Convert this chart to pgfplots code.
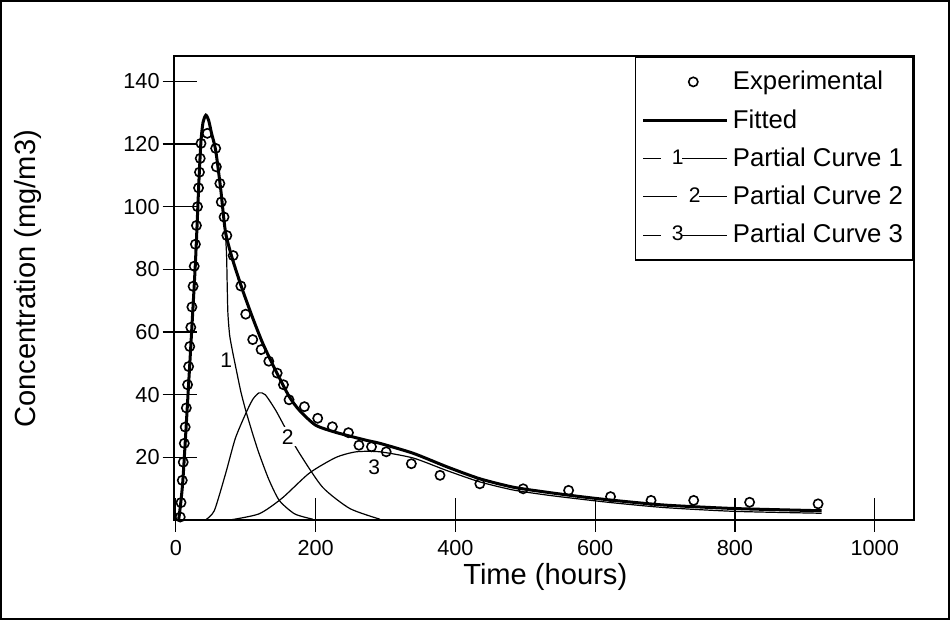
\documentclass[border=0pt]{standalone}
\usepackage{fontspec}
\setmainfont{Liberation Sans}
\usepackage{pgfplots}
\pgfplotsset{compat=1.18}

\pgfplotsset{
    markimg/.style={legend image code/.code={\path (0pt,0pt) (42pt,0pt);
        \draw[##1] plot coordinates {(25pt,0pt)};}},
    lineimg/.style={legend image code/.code={\draw[##1] (0pt,0pt) -- (42pt,0pt);}},
    numimg/.style n args={4}{legend image code/.code={\draw[##1] (0pt,0pt) -- (#2,0pt);
        \node[inner sep=0pt, font=\fontsize{10.5}{12}\selectfont] at (#3,0pt) {#1};
        \draw[##1] (#4,0pt) -- (42pt,0pt);}},
}

\begin{document}
\begin{tikzpicture}
\begin{axis}[
    scale only axis,
    width=368.5pt,
    height=231pt,
    xmin=-3, xmax=1056,
    ymin=0, ymax=148,
    xtick={0,200,...,1000},
    ytick={20,40,...,140},
    xtick pos=bottom,
    ytick pos=left,
    tick align=center,
    major tick length=17pt,
    xtick style={yshift=2.75pt, line width=0.6pt, black},
    ytick style={xshift=3pt, line width=0.6pt, black},
    axis line style={line width=1pt},
    /pgf/number format/assume math mode=true,
    /pgf/number format/1000 sep={},
    tick label style={font=\fontsize{10.8}{12}\selectfont},
    yticklabel style={xshift=5pt},
    xticklabel style={yshift=2pt},
    xlabel={Time (hours)},
    ylabel={Concentration (mg/m3)},
    label style={font=\fontsize{14.5}{16}\selectfont},
    xlabel style={at={(rel axis cs:0.502,-0.123)}, anchor=center},
    ylabel style={at={(rel axis cs:-0.197,0.52)}, anchor=center},
    clip=false,
    legend cell align=left,
    legend style={at={(1,1)}, anchor=north east, draw=black, line width=0.8pt,
        font=\fontsize{12.8}{14}\selectfont, row sep=4.3pt, inner xsep=3pt, inner ysep=5pt},
]

% experimental points
\addplot[only marks, mark=o, mark size=2.3pt, mark options={line width=0.8pt}, markimg]
coordinates {
(6.3,1) (7.4,5.6) (9.2,12.7) (10.6,18.5) (12.1,24.5) (13.4,29.7) (15,35.8)
(16.8,43.2) (18.3,49) (19.9,55.4) (21.4,61.5) (23,68) (24.7,74.6) (26.3,81)
(28,88) (29.5,94) (31,100) (32.5,106) (33.8,111) (34.9,115.4) (36,120.2)
(45,123.4) (57,118.6) (58,112.7) (63,107.4) (65,101.5) (69,96.7) (73,90.8)
(82,84.4) (93,74.7) (100,65.7) (110,57.6) (122,54.4) (133,50.7) (145,46.9)
(154,43.2) (162,38.4) (184,36.2) (203,32.5) (224,29.8) (247,27.9) (262,23.9)
(280,23.4) (301,21.8) (337,18) (378,14.3) (435,11.6) (497,10) (562,9.5)
(622,7.5) (680,6.3) (741,6.3) (821,5.7) (919,5.2)
};
\addlegendentry{Experimental}

% fitted curve
\addplot[line width=1.5pt, smooth, tension=0.4, lineimg]
coordinates {
(4,0) (10,12.5) (20,50) (28,82) (33,108) (36,121) (39,127) (43,129.2)
(47,127.5) (51,123.5) (57,118) (64,106) (71,92) (81,83.3) (95,73.7)
(110,64.5) (124,56.6) (140,49) (162,39.5) (177,35) (200,30.3) (229,28)
(272,25.5) (292,24.5) (340,21.3) (388,17) (435,13.2) (483,10.5) (531,8.9)
(579,7.5) (627,6.3) (700,4.8) (800,3.7) (924,3)
};
\addlegendentry{Fitted}

% partial curve 1
\addplot[line width=0.6pt, smooth, tension=0.4, numimg={1}{9pt}{14pt}{19.5pt}]
coordinates {
(4,0) (10,12.5) (20,50) (28,82) (33,108) (36,121) (39,127) (43,129.2)
(47,127.5) (51,123.5) (57,118) (64,106) (70,94) (72.5,85) (73.5,75)
(74.5,66) (77,59) (81,54) (86,48.5) (93,41) (100,35) (110,27.5) (119,21.3)
(133,13) (148,6.3) (170,2) (196,0.3)
};
\addlegendentry{Partial Curve 1}

% partial curve 2
\addplot[line width=0.6pt, smooth, tension=0.4, numimg={2}{17pt}{22.5pt}{28pt}]
coordinates {
(42,0) (55,3) (71.4,15) (85,26) (100,34) (110,38.5) (119,40.6) (128,40)
(143,35) (160,28) (177,21.3) (210,10.5) (249,3.7) (292,0.3)
};
\addlegendentry{Partial Curve 2}

% partial curve 3
\addplot[line width=0.6pt, smooth, tension=0.4, numimg={3}{9pt}{14pt}{19.5pt}]
coordinates {
(76,0) (119,2) (152,7) (191,15) (229,20) (258,21.8) (292,21.8) (340,19.8)
(388,15.8) (435,12.2) (483,9.6) (531,8) (579,6.7) (627,5.5) (700,4)
(800,2.8) (924,2.2)
};
\addlegendentry{Partial Curve 3}

\node[font=\fontsize{10.5}{12}\selectfont] at (axis cs:72,51) {1};
\node[font=\fontsize{10.5}{12}\selectfont, fill=white, inner sep=1pt] at (axis cs:160,26.6) {2};
\node[font=\fontsize{10.5}{12}\selectfont] at (axis cs:284,17) {3};

% outer frame
\draw[line width=1pt] (rel axis cs:-0.2334,-0.2121) rectangle (rel axis cs:1.0475,1.119);
\end{axis}
\end{tikzpicture}
\end{document}
